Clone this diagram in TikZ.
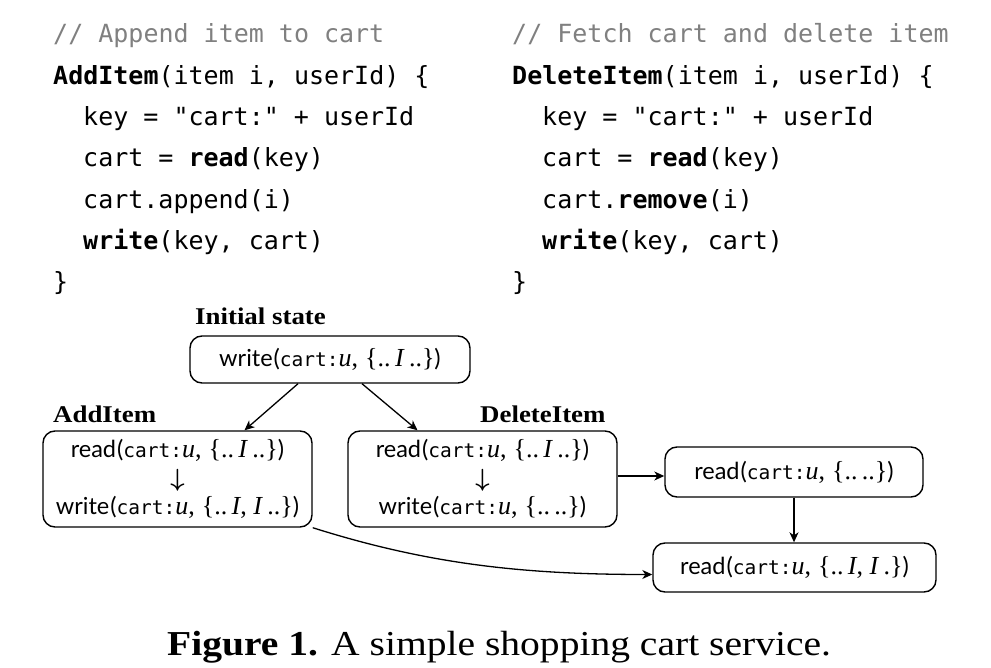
\documentclass[tikz,border=0pt]{standalone}
\usepackage{graphicx}
\usepackage{fontspec}
\setmainfont{Liberation Serif}
\setsansfont{Lato}
\setmonofont{DejaVu Sans Mono}
\usetikzlibrary{arrows.meta}
\definecolor{cmtgray}{HTML}{808080}
\newcommand{\serifpart}[1]{{\fontsize{26}{28}\selectfont\rmfamily #1}}
\newcommand{\mycrt}{{\fontsize{19.5}{20}\selectfont\texttt{cart:}}\serifpart{\textit{u},}\hspace{0.3em}}
\newcommand{\myrd}[1]{\textsf{read\kern1pt(}\mycrt\serifpart{\{#1\}}\textsf{)}}
\newcommand{\mywr}[1]{\textsf{write\kern1pt(}\mycrt\serifpart{\{#1\}}\textsf{)}}
\newcommand{\itI}{\textit{I}}
\newcommand{\dn}{{\fontsize{25}{25}\selectfont\boldmath$\downarrow$}}
\begin{document}
\begin{tikzpicture}[x=1pt,y=-1pt,
  code/.style={anchor=base west, inner sep=0pt, font=\fontsize{25}{30}\selectfont\ttfamily},
  cmtline/.style={code, text=cmtgray},
  box/.style={draw, rounded corners=12pt, line width=1.4pt, inner sep=0pt, align=center, font=\fontsize{23.5}{28.5}\selectfont},
  lbl/.style={anchor=base west, inner sep=0pt, font=\fontsize{24}{28}\selectfont\bfseries},
  arr/.style={line width=1.3pt, -{Stealth[length=10pt,width=9pt,inset=3pt]}}
]
\useasboundingbox (0,0) rectangle (991,668);
% left code
\node[cmtline] (l1) at (53,43) {// Append item to cart};
\node[code] (l2) at (53,85) {\textbf{AddItem}(item i, userId) \{};
\node[code] (l3) at (83,126) {key = "cart:" + userId};
\node[code] (l4) at (83,167) {cart = \textbf{read}(key)};
\node[code] (l5) at (83,209) {cart.append(i)};
\node[code] (l6) at (83,250) {\textbf{write}(key, cart)};
\node[code] (l7) at (53,291) {\}};
% right code
\node[cmtline] (r1c) at (512,43) {// Fetch cart and delete item};
\node[code] (r2c) at (512,85) {\textbf{DeleteItem}(item i, userId) \{};
\node[code] (r3c) at (542,126) {key = "cart:" + userId};
\node[code] (r4c) at (542,167) {cart = \textbf{read}(key)};
\node[code] (r5c) at (542,209) {cart.\textbf{remove}(i)};
\node[code] (r6c) at (542,250) {\textbf{write}(key, cart)};
\node[code] (r7c) at (512,291) {\}};
% labels
\node[lbl] (linit) at (195,325) {\scalebox{1.12}[1]{Initial state}};
\node[lbl] (ladd) at (53,422) {\scalebox{1.12}[1]{AddItem}};
\node[lbl] (ldel) at (480,422) {\scalebox{1.12}[1]{DeleteItem}};
% boxes
\node[box, minimum width=280pt, minimum height=47pt] (init) at (330,359.5) {\mywr{..\,\itI\,..}};
\node[box, minimum width=269pt, minimum height=96pt] (add) at (177.5,479) {\myrd{..\,\itI\,..}\\\dn\\\mywr{..\,\itI, \itI\,..}};
\node[box, minimum width=269pt, minimum height=96pt] (del) at (482.5,479) {\myrd{..\,\itI\,..}\\\dn\\\mywr{..\,..}};
\node[box, minimum width=258pt, minimum height=50pt] (rr1) at (794,472) {\myrd{..\,..}};
\node[box, minimum width=283pt, minimum height=49pt] (rr2) at (794.5,567.5) {\myrd{..\,\itI, \itI\,.}};
% connectors
\draw[arr] ([xshift=-32pt]init.south) -- ([xshift=67pt]add.north);
\draw[arr] ([xshift=32pt]init.south) -- ([xshift=-65pt]del.north);
\draw[arr] ([yshift=3pt]del.east) -- ([yshift=3pt]del.east -| rr1.west);
\draw[arr] (rr1.south) -- (rr1.south |- rr2.north);
\draw[arr] (add.south east) .. controls +(117,37) and +(-127,0) .. ([yshift=-7pt]rr2.west);
% caption
\node[anchor=base west, inner sep=0pt] (cap) at (167,655) {\scalebox{1.13}[1]{\fontsize{35}{40}\selectfont\textbf{Figure 1.} A simple shopping cart service.}};
\end{tikzpicture}
\end{document}
